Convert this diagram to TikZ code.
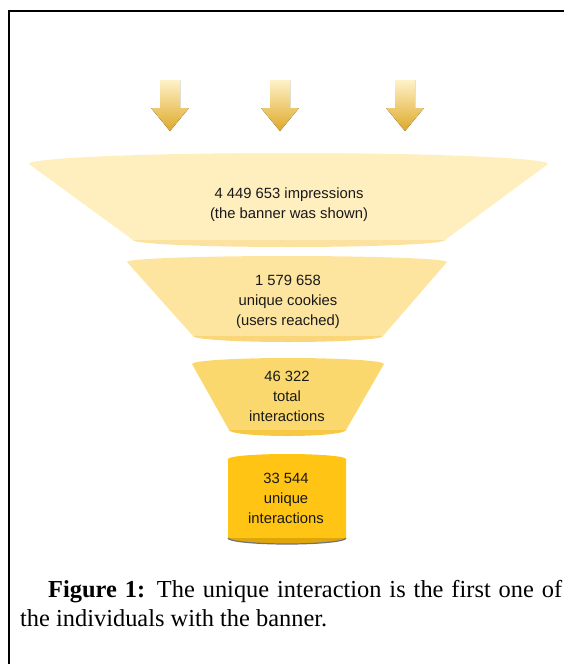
\documentclass[tikz,border=0pt]{standalone}
\usepackage{fontspec}
\setmainfont{Liberation Serif}
\newfontfamily\lblfont{Liberation Sans}
\definecolor{segA}{RGB}{255,238,190}
\definecolor{bandA}{RGB}{252,226,160}
\definecolor{segB}{RGB}{253,229,160}
\definecolor{bandB}{RGB}{250,214,120}
\definecolor{segC}{RGB}{251,216,110}
\definecolor{bandC}{RGB}{246,200,70}
\definecolor{cylbody}{RGB}{255,196,20}
\definecolor{cylrim}{RGB}{222,166,10}
\definecolor{rimline}{RGB}{110,115,130}
\definecolor{arrowtop}{RGB}{255,242,200}
\definecolor{arrowtip}{RGB}{222,168,40}
\tikzset{
  lbl/.style={font=\lblfont\fontsize{14.8}{20}\selectfont, align=center, inner sep=0pt, text=black!90},
  captext/.style={font=\fontsize{24.4}{29}\selectfont, text width=542pt, align=justify, inner sep=0pt},
  arrowfill/.style={top color=arrowtop, bottom color=arrowtip},
  frameline/.style={line width=1.5pt, black},
}

\begin{document}
\begin{tikzpicture}[x=1pt,y=1pt]
    \useasboundingbox (0,0) rectangle (564,-664);
    \clip (0,0) rectangle (564,-664);
    % frame
    \draw[frameline] (9,-664) -- (9,-11) -- (564,-11);
    % arrows
    \foreach \ax in {170,280,405}
      \fill[arrowfill] (\ax-10,-80) -- (\ax+10,-80) -- (\ax+10,-108) -- (\ax+19,-108)
        -- (\ax,-131) -- (\ax-19,-108) -- (\ax-10,-108) -- cycle;
    % funnel
    \fill[segA] (29,-164) arc[start angle=180, end angle=0, x radius=259.5, y radius=11]
      -- (445,-240) -- (133,-240) -- cycle;
    \fill[bandA] (133,-240) arc[start angle=180, end angle=360, x radius=156, y radius=7] -- cycle;
    \fill[segB] (127,-262) arc[start angle=180, end angle=0, x radius=160, y radius=6]
      -- (383,-336) -- (193,-336) -- cycle;
    \fill[bandB] (193,-336) arc[start angle=180, end angle=360, x radius=95, y radius=6] -- cycle;
    \fill[segC] (192,-364) arc[start angle=180, end angle=0, x radius=96, y radius=6]
      -- (346,-430) -- (229,-430) -- cycle;
    \fill[bandC] (229,-430) arc[start angle=180, end angle=360, x radius=58.5, y radius=6] -- cycle;
    \fill[cylbody] (228,-459) arc[start angle=180, end angle=0, x radius=59, y radius=5]
      -- (346,-538) -- (228,-538) -- cycle;
    \fill[cylrim] (228,-538) arc[start angle=180, end angle=360, x radius=59, y radius=6] -- cycle;
    \draw[rimline, line width=1.2pt] (228,-538) arc[start angle=180, end angle=360, x radius=59, y radius=6];
    % labels
    \node[lbl] (imp) at (289,-204.5) {4 449 653 impressions\\(the banner was shown)};
    \node[lbl] (ck) at (288,-302) {1 579 658\\unique cookies\\(users reached)};
    \node[lbl] (tot) at (287,-396) {46 322\\total\\interactions};
    \node[lbl] (uni) at (286,-498) {33 544\\unique\\interactions};
    % caption
    \node[captext, anchor=north west] (cap) at (20,-580)
      {\hspace*{28pt}\textbf{Figure 1:} The unique interaction is the first one of\linebreak the individuals with the banner.};
  \end{tikzpicture}
\end{document}
